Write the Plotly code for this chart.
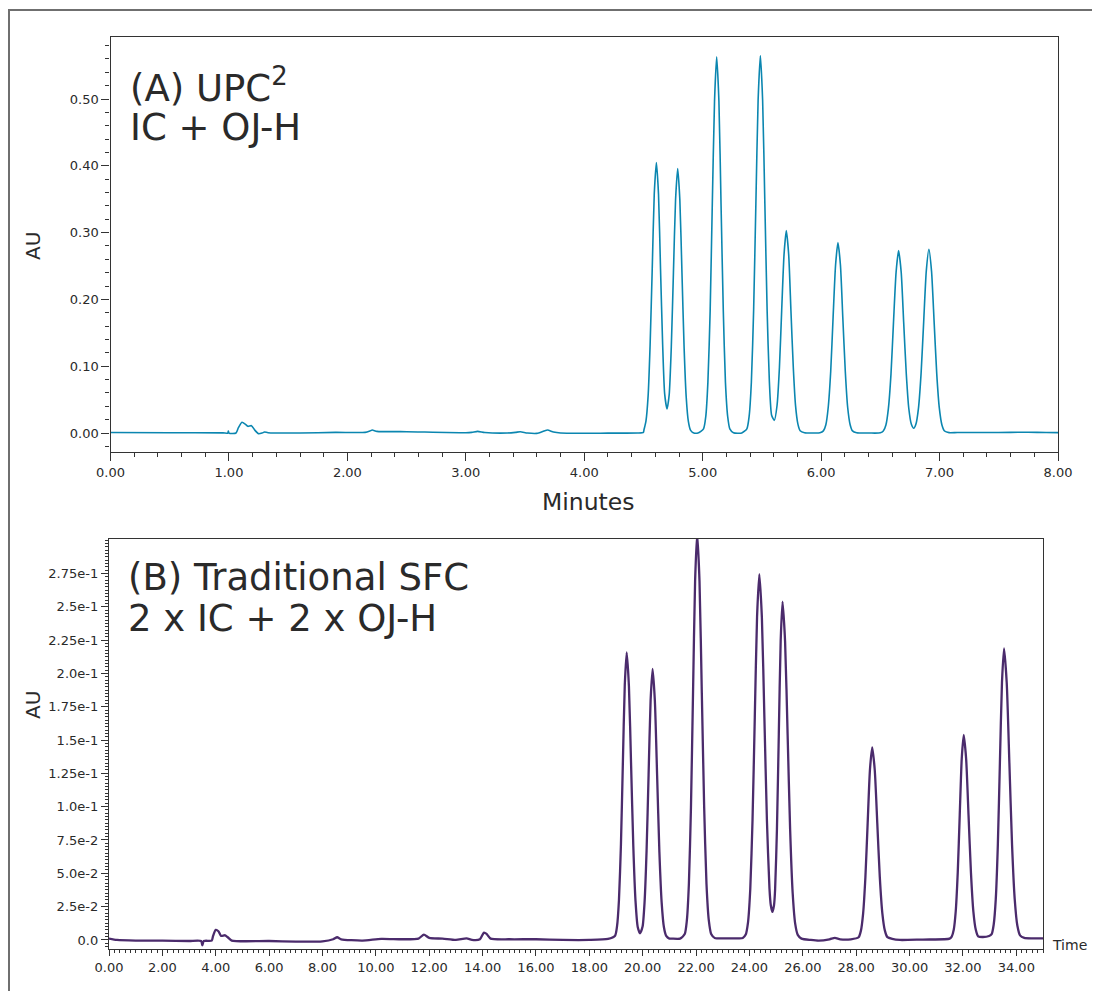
import plotly.graph_objects as go

# ---------------- DATA ----------------
# (A) UPC2 chromatogram: time (min) and absorbance (AU)
upc_time = [
    0.00, 0.50, 0.95, 0.99, 0.995, 1.00, 1.06, 1.08, 1.11, 1.14, 1.16, 1.19, 1.22, 1.25, 1.28, 1.30, 1.33,
    1.60, 1.90, 2.15, 2.19, 2.21, 2.25, 2.50, 3.00, 3.05, 3.10, 3.16, 3.35, 3.42, 3.46, 3.52, 3.60,
    3.66, 3.69, 3.74, 3.80, 4.20, 4.45, 4.50,
    4.504, 4.521, 4.539, 4.556, 4.574, 4.591, 4.609, 4.627, 4.644, 4.662, 4.679, 4.699, 4.717,
    4.735, 4.753, 4.771, 4.789, 4.807, 4.825, 4.843, 4.861, 4.879, 4.897, 4.920, 4.960,
    5.007, 5.026, 5.044, 5.063, 5.081, 5.100, 5.118, 5.137, 5.155, 5.174, 5.192, 5.211, 5.229, 5.260, 5.330,
    5.373, 5.392, 5.411, 5.430, 5.449, 5.468, 5.487, 5.506, 5.525, 5.544, 5.563, 5.582, 5.605,
    5.628, 5.648, 5.667, 5.687, 5.706, 5.726, 5.745, 5.765, 5.784, 5.804, 5.823, 5.860, 5.930,
    5.990, 6.019, 6.040, 6.060, 6.081, 6.101, 6.122, 6.142, 6.163, 6.183, 6.204, 6.224, 6.245, 6.265, 6.300, 6.410,
    6.500, 6.525, 6.547, 6.568, 6.590, 6.611, 6.633, 6.654, 6.676, 6.697, 6.719, 6.740, 6.762, 6.782,
    6.800, 6.822, 6.844, 6.866, 6.888, 6.910, 6.932, 6.954, 6.976, 6.998, 7.020, 7.042, 7.080, 7.150,
    7.40, 7.60, 7.75, 7.90, 8.00,
]
upc_au = [
    0.0008, 0.0005, 0.0003, 0.0000, 0.0030, 0.0000, 0.0000, 0.0080, 0.0160, 0.0130, 0.0100, 0.0110, 0.0040, -0.0010, 0.0000, 0.0015, 0.0005,
    0.0000, 0.0010, 0.0010, 0.0030, 0.0045, 0.0025, 0.0020, 0.0005, 0.0010, 0.0025, 0.0008, 0.0000, 0.0010, 0.0018, 0.0000, -0.0005,
    0.0030, 0.0045, 0.0015, 0.0000, -0.0002, 0.0000, 0.0010,
    0.0045, 0.0178, 0.0548, 0.1315, 0.2456, 0.3574, 0.4050, 0.3574, 0.2460, 0.1320, 0.0585, 0.0360, 0.0570,
    0.1290, 0.2400, 0.3495, 0.3960, 0.3495, 0.2400, 0.1286, 0.0536, 0.0174, 0.0044, 0.0005, 0.0000,
    0.0063, 0.0247, 0.0762, 0.1828, 0.3415, 0.4968, 0.5630, 0.4968, 0.3415, 0.1828, 0.0762, 0.0247, 0.0063, 0.0005, 0.0000,
    0.0063, 0.0248, 0.0764, 0.1835, 0.3427, 0.4986, 0.5650, 0.4986, 0.3427, 0.1840, 0.0770, 0.0267, 0.0190,
    0.0416, 0.0984, 0.1838, 0.2674, 0.3030, 0.2674, 0.1838, 0.0984, 0.0410, 0.0133, 0.0034, 0.0004, 0.0000,
    0.0003, 0.0032, 0.0125, 0.0386, 0.0925, 0.1729, 0.2515, 0.2850, 0.2515, 0.1729, 0.0925, 0.0386, 0.0125, 0.0032, 0.0004, 0.0000,
    0.0003, 0.0030, 0.0120, 0.0369, 0.0886, 0.1656, 0.2409, 0.2730, 0.2409, 0.1656, 0.0887, 0.0371, 0.0130, 0.0072,
    0.0130, 0.0373, 0.0893, 0.1668, 0.2427, 0.2750, 0.2427, 0.1668, 0.0893, 0.0372, 0.0121, 0.0031, 0.0006, 0.0008,
    0.0007, 0.0010, 0.0012, 0.0008, 0.0006,
]

# (B) Traditional SFC chromatogram
sfc_time = [
    0.00, 0.30, 1.00, 2.00, 3.00, 3.45, 3.50, 3.55, 3.85, 3.90, 4.00, 4.10, 4.20, 4.35, 4.45, 4.60,
    6.00, 7.00, 8.00, 8.40, 8.55, 8.70, 9.50, 10.20, 11.00, 11.60, 11.80, 12.00, 12.50, 13.00, 13.40,
    13.60, 13.90, 14.05, 14.15, 14.30, 15.00, 16.00, 17.00, 18.00, 18.70,
    18.965, 19.038, 19.110, 19.183, 19.255, 19.328, 19.400, 19.483, 19.565, 19.648, 19.730, 19.813, 19.900,
    19.995, 20.070, 20.145, 20.220, 20.295, 20.370, 20.455, 20.540, 20.625, 20.710, 20.795, 20.880, 21.000, 21.080,
    21.400, 21.575, 21.653, 21.730, 21.808, 21.885, 21.963, 22.040, 22.128, 22.215, 22.303, 22.390, 22.478, 22.565, 22.700,
    23.140, 23.600, 23.750,
    23.860, 23.945, 24.030, 24.115, 24.200, 24.285, 24.370, 24.465, 24.560, 24.655, 24.750, 24.800, 24.860, 24.920,
    24.960, 25.030, 25.100, 25.170, 25.240, 25.335, 25.430, 25.525, 25.620, 25.715, 25.810, 25.950,
    26.300, 26.600, 27.000, 27.200, 27.400, 27.800,
    28.090, 28.175, 28.260, 28.345, 28.430, 28.515, 28.600, 28.695, 28.790, 28.885, 28.980, 29.075, 29.170, 29.350,
    29.640, 30.500, 31.300, 31.500,
    31.580, 31.655, 31.730, 31.805, 31.880, 31.955, 32.030, 32.120, 32.210, 32.300, 32.390, 32.480, 32.570, 32.750, 32.980,
    33.075, 33.153, 33.230, 33.308, 33.385, 33.463, 33.540, 33.640, 33.740, 33.840, 33.940, 34.040, 34.140, 34.300,
    34.600, 35.000,
]
sfc_au = [
    0.0010, 0.0000, -0.0005, -0.0005, -0.0008, -0.0008, -0.0040, -0.0008, -0.0005, 0.0030, 0.0075, 0.0065, 0.0030, 0.0035, 0.0020, -0.0005,
    -0.0008, -0.0012, -0.0010, 0.0005, 0.0020, 0.0005, -0.0005, 0.0008, 0.0005, 0.0010, 0.0040, 0.0015, 0.0010, 0.0000, 0.0012,
    0.0000, 0.0005, 0.0055, 0.0045, 0.0010, 0.0005, 0.0005, 0.0000, 0.0000, 0.0008,
    0.0032, 0.0103, 0.0300, 0.0709, 0.1317, 0.1912, 0.2158, 0.1904, 0.1309, 0.0701, 0.0293, 0.0097, 0.0050,
    0.0100, 0.0285, 0.0670, 0.1240, 0.1794, 0.2033, 0.1794, 0.1233, 0.0660, 0.0280, 0.0095, 0.0030, 0.0010, 0.0010,
    0.0010, 0.0044, 0.0144, 0.0420, 0.0995, 0.1850, 0.2692, 0.3050, 0.2692, 0.1850, 0.0995, 0.0420, 0.0144, 0.0044, 0.0015,
    0.0012, 0.0012, 0.0015,
    0.0040, 0.0130, 0.0380, 0.0900, 0.1670, 0.2425, 0.2745, 0.2422, 0.1665, 0.0892, 0.0387, 0.0260, 0.0210, 0.0260,
    0.0375, 0.0831, 0.1545, 0.2245, 0.2538, 0.2240, 0.1539, 0.0824, 0.0350, 0.0120, 0.0038, 0.0010,
    0.0000, -0.0005, 0.0005, 0.0015, 0.0005, 0.0005,
    0.0020, 0.0068, 0.0200, 0.0472, 0.0878, 0.1276, 0.1445, 0.1275, 0.0876, 0.0469, 0.0200, 0.0070, 0.0021, 0.0008,
    0.0000, 0.0003, 0.0005, 0.0010,
    0.0025, 0.0076, 0.0215, 0.0505, 0.0938, 0.1360, 0.1538, 0.1357, 0.0933, 0.0505, 0.0215, 0.0078, 0.0027, 0.0022, 0.0030,
    0.0044, 0.0116, 0.0306, 0.0715, 0.1330, 0.1933, 0.2188, 0.1931, 0.1327, 0.0715, 0.0306, 0.0106, 0.0034, 0.0015,
    0.0012, 0.0012,
]

# tick labels
top_x_vals = [0, 1, 2, 3, 4, 5, 6, 7, 8]
top_x_text = ["0.00", "1.00", "2.00", "3.00", "4.00", "5.00", "6.00", "7.00", "8.00"]
top_y_vals = [0.0, 0.1, 0.2, 0.3, 0.4, 0.5]
top_y_text = ["0.00", "0.10", "0.20", "0.30", "0.40", "0.50"]
bot_x_vals = [0, 2, 4, 6, 8, 10, 12, 14, 16, 18, 20, 22, 24, 26, 28, 30, 32, 34]
bot_x_text = ["0.00", "2.00", "4.00", "6.00", "8.00", "10.00", "12.00", "14.00", "16.00",
              "18.00", "20.00", "22.00", "24.00", "26.00", "28.00", "30.00", "32.00", "34.00"]
bot_y_vals = [0.0, 0.025, 0.05, 0.075, 0.1, 0.125, 0.15, 0.175, 0.2, 0.225, 0.25, 0.275]
bot_y_text = ["0.0", "2.5e-2", "5.0e-2", "7.5e-2", "1.0e-1", "1.25e-1", "1.5e-1", "1.75e-1",
              "2.0e-1", "2.25e-1", "2.5e-1", "2.75e-1"]

# ---------------- FIGURE ----------------
# the page adds an 8px body margin, so the figure is 8px smaller and all
# screen positions below are converted with that offset
OFF = 8
W, H = 1100 - OFF, 991 - OFF
ML, MT = 109 - OFF, 37 - OFF
MR = W - (1058 - OFF)
MB = H - (949 - OFF)
PW, PH = W - ML - MR, H - MT - MB


def px(x):
    return (x - OFF - ML) / PW


def py(y):
    return (H - MB - (y - OFF)) / PH


FONT = "DejaVu Sans"
TXT = "#2a2a2a"
AX = "#333333"

fig = go.Figure()
fig.add_trace(go.Scatter(x=upc_time, y=upc_au, mode="lines", xaxis="x", yaxis="y",
                         line=dict(color="#0b86b0", width=1.6, shape="spline", smoothing=0.6),
                         showlegend=False, hoverinfo="skip"))
fig.add_trace(go.Scatter(x=sfc_time, y=sfc_au, mode="lines", xaxis="x2", yaxis="y2",
                         line=dict(color="#4b2b6c", width=2.3, shape="spline", smoothing=0.6),
                         showlegend=False, hoverinfo="skip"))

common = dict(showgrid=False, zeroline=False, showline=True, linecolor=AX, linewidth=1.3,
              mirror=True, ticks="outside", tickcolor=AX, tickwidth=1.2,
              tickfont=dict(family=FONT, size=13, color=TXT), tickmode="array")

fig.update_layout(
    width=W, height=H,
    margin=dict(l=ML, r=MR, t=MT, b=MB),
    paper_bgcolor="white", plot_bgcolor="white",
    font=dict(family=FONT, color=TXT),
    xaxis=dict(domain=[px(110.5), 1.0], anchor="y", range=[0, 8],
               tickvals=top_x_vals, ticktext=top_x_text, ticklen=8,
               minor=dict(tickmode="linear", tick0=0, dtick=0.2, ticklen=4, ticks="outside",
                          tickcolor=AX, tickwidth=1.1),
               **common),
    yaxis=dict(domain=[py(452), py(37)], anchor="x", range=[-0.0284, 0.5928],
               tickvals=top_y_vals, ticktext=top_y_text, ticklen=8,
               minor=dict(tickmode="linear", tick0=0, dtick=0.02, ticklen=4, ticks="outside",
                          tickcolor=AX, tickwidth=1.1),
               **common),
    xaxis2=dict(domain=[0.0, px(1043)], anchor="y2", range=[0, 35],
                tickvals=bot_x_vals, ticktext=bot_x_text, ticklen=6,
                minor=dict(tickmode="linear", tick0=0, dtick=0.2, ticklen=3, ticks="outside",
                           tickcolor=AX, tickwidth=1.0),
                **common),
    yaxis2=dict(domain=[0.0, py(539)], anchor="x2", range=[-0.0068, 0.3008],
                tickvals=bot_y_vals, ticktext=bot_y_text, ticklen=7,
                minor=dict(tickmode="linear", tick0=0, dtick=0.0025, ticklen=3, ticks="outside",
                           tickcolor=AX, tickwidth=1.0),
                **common),
)

# outer frame
fig.add_shape(type="rect", xref="paper", yref="paper",
              x0=px(9), x1=px(1300), y0=py(1200), y1=py(10),
              line=dict(color="#6f6f6f", width=2), fillcolor="rgba(0,0,0,0)", layer="below")

ann = []
ann.append(dict(text="(A) UPC<sup>2</sup>", x=px(128), y=py(86), xanchor="left", yanchor="middle",
                font=dict(size=37, color=TXT)))
ann.append(dict(text="IC + OJ-H", x=px(128), y=py(127), xanchor="left", yanchor="middle",
                font=dict(size=37, color=TXT)))
ann.append(dict(text="(B) Traditional SFC", x=px(126), y=py(577), xanchor="left", yanchor="middle",
                font=dict(size=37, color=TXT)))
ann.append(dict(text="2 x IC + 2 x OJ-H", x=px(126), y=py(619), xanchor="left", yanchor="middle",
                font=dict(size=37, color=TXT)))
ann.append(dict(text="Minutes", x=px(588), y=py(502), xanchor="center", yanchor="middle",
                font=dict(size=23.5, color=TXT)))
ann.append(dict(text="AU", x=px(33), y=py(246), xanchor="center", yanchor="middle", textangle=-90,
                font=dict(size=20, color=TXT)))
ann.append(dict(text="AU", x=px(33), y=py(705), xanchor="center", yanchor="middle", textangle=-90,
                font=dict(size=20, color=TXT)))
ann.append(dict(text="Time", x=px(1050), y=py(945), xanchor="left", yanchor="middle",
                font=dict(size=14, color=TXT)))
for a in ann:
    a.update(xref="paper", yref="paper", showarrow=False)
fig.update_layout(annotations=ann)

fig.write_html("out.html")
